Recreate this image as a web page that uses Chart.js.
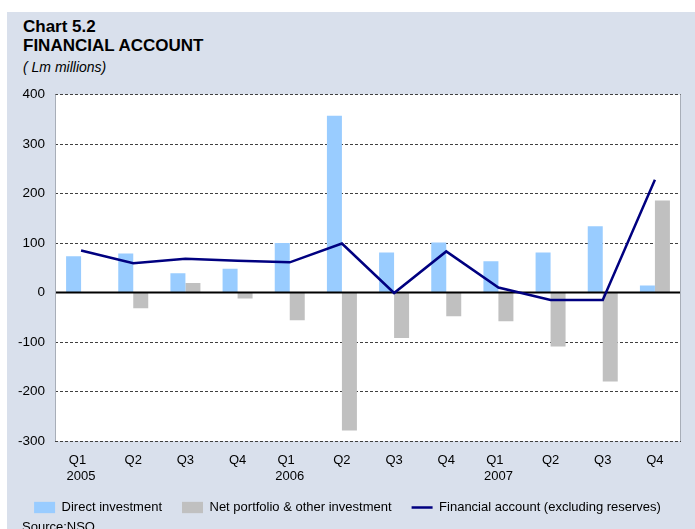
<!DOCTYPE html>
<html><head><meta charset="utf-8">
<script src="https://cdn.jsdelivr.net/npm/chart.js@4.4.1/dist/chart.umd.min.js"></script>
<style>
html,body{margin:0;padding:0;background:#fff;width:695px;height:529px;overflow:hidden;}
#panel{position:absolute;left:7px;top:12px;width:688px;height:517px;background:#D9E0EC;}
.t{position:absolute;left:23px;white-space:nowrap;font-family:"Liberation Sans",Arial,sans-serif;line-height:1;color:#000;}
#c{position:absolute;left:7px;top:80px;}
</style></head><body>
<div id="panel"></div>
<div class="t" style="top:17.6px;font-size:17px;font-weight:bold">Chart 5.2</div>
<div class="t" style="top:37.3px;font-size:17px;font-weight:bold">FINANCIAL ACCOUNT</div>
<div class="t" style="top:59.5px;font-size:14px;font-style:italic">( Lm millions)</div>
<canvas id="c" width="688" height="444"></canvas>
<div class="t" style="top:519.5px;left:22px;font-size:13px">Source:NSO.</div>
<script>
const categories = [["Q1  ","2005"],"Q2","Q3","Q4",["Q1  ","2006"],"Q2","Q3","Q4",["Q1  ","2007"],"Q2","Q3","Q4"];
const directInvestment = [73,79,39,48,100,357,81,101,63,81,134,14];
const netPortfolio = [0,-32,19,-12,-56,-279,-92,-48,-58,-109,-180,186];
const financialAccount = [85,59,68,64,61,99,-1,83,10,-15,-15,228];
const yMin = -300, yMax = 400, yStep = 100;
const seriesNames = ["Direct investment","Net portfolio & other investment","Financial account (excluding reserves)"];

Chart.defaults.font.family = '"Liberation Sans", Arial, sans-serif';
Chart.defaults.color = '#000';

const frame = {
  id:'frame',
  beforeDraw(chart){
    const {ctx, chartArea:a} = chart;
    ctx.save();
    ctx.fillStyle = '#fff';
    ctx.fillRect(a.left, a.top, a.right-a.left, a.bottom-a.top);
    ctx.restore();
  },
  afterDraw(chart){
    const {ctx, chartArea:a} = chart;
    ctx.save();
    ctx.strokeStyle = '#A8AEB8';
    ctx.lineWidth = 1;
    ctx.beginPath();
    ctx.moveTo(a.left+0.5, a.top); ctx.lineTo(a.left+0.5, a.bottom);
    ctx.moveTo(a.right-0.5, a.top); ctx.lineTo(a.right-0.5, a.bottom);
    ctx.stroke();
    ctx.restore();
  },
  beforeDatasetDraw(chart, args){
    if (args.index !== 2) return;
    const {ctx, chartArea:a, scales:{y}} = chart;
    const py = y.getPixelForValue(0);
    ctx.save();
    ctx.strokeStyle = '#000';
    ctx.lineWidth = 2;
    ctx.beginPath();
    ctx.moveTo(a.left, py); ctx.lineTo(a.right, py);
    ctx.stroke();
    ctx.restore();
  }
};

new Chart(document.getElementById('c'), {
  type:'bar',
  data:{
    labels:categories,
    datasets:[
      {label:seriesNames[0], data:directInvestment, backgroundColor:'#99CCFF', borderWidth:0, order:1,
       barPercentage:1, categoryPercentage:0.575},
      {label:seriesNames[1], data:netPortfolio, backgroundColor:'#C0C0C0', borderWidth:0, order:1,
       barPercentage:1, categoryPercentage:0.575},
      {type:'line', label:seriesNames[2], data:financialAccount, borderColor:'#000080', backgroundColor:'#000080',
       borderWidth:2.5, pointRadius:0, tension:0, order:0}
    ]
  },
  plugins:[frame],
  options:{
    responsive:false, devicePixelRatio:1, animation:false,
    layout:{padding:{top:14.5,left:7,right:14,bottom:0}},
    scales:{
      x:{
        grid:{display:false, drawTicks:false}, border:{display:false},
        ticks:{padding:12, color:'#000', font:{size:13}, maxRotation:0, autoSkip:false},
        afterFit(s){ s.height = 40; }
      },
      y:{
        min:yMin, max:yMax,
        ticks:{stepSize:yStep, padding:10, color:'#000', font:{size:13.5, lineHeight:0.6}},
        grid:{color:'#404040', lineWidth:1, drawTicks:false},
        border:{display:false, dash:[3,2]},
        afterFit(s){ s.width = 41; }
      }
    },
    plugins:{
      tooltip:{enabled:false},
      legend:{
        position:'bottom',
        labels:{
          usePointStyle:true, pointStyleWidth:21, boxHeight:11.3, padding:20, color:'#000', font:{size:13},
          generateLabels(chart){
            const items = Chart.defaults.plugins.legend.labels.generateLabels(chart);
            items.forEach(it => {
              if (it.datasetIndex === 2) { it.pointStyle='line'; it.lineWidth=2.5; it.strokeStyle='#000080'; }
              else { it.pointStyle='rect'; it.lineWidth=0; }
            });
            items.sort((a,b) => a.datasetIndex - b.datasetIndex);
            return items;
          }
        }
      }
    }
  }
});
</script>
</body></html>
